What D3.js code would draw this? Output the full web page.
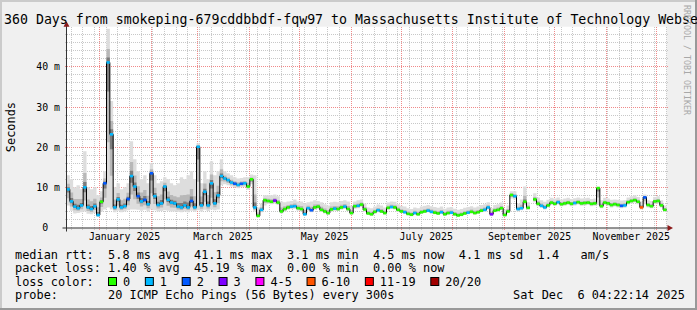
<!DOCTYPE html>
<html><head><meta charset="utf-8">
<script src="https://cdn.jsdelivr.net/npm/d3@7"></script>
<style>
html,body{margin:0;padding:0;background:#f0f0f0}
svg{display:block}
text{font-family:"DejaVu Sans Mono",monospace;fill:#000}
</style>
</head><body>
<svg id="c" width="697" height="310"></svg>
<script>
// ---------------- data ----------------
const titleText = "360 Days from smokeping-679cddbbdf-fqw97 to Massachusetts Institute of Technology Webse";
const yAxisTitle = "Seconds";
const watermark = "RRDTOOL / TOBI OETIKER";
const startDate = "2024-12-12T04:00:00Z";
const spanDays = 360;
const stepDays = 2;

const medianMs = [
 9.5,6.5,5.2,4.8,5.5,10.0,5.0,4.6,5.3,3.1,
 6.4,11.0,41.1,23.2,5.0,7.0,5.0,5.3,7.1,12.8,
 10.2,7.8,6.5,6.9,5.8,13.5,7.8,5.6,6.0,10.2,
 6.9,6.2,6.0,5.2,5.0,5.5,5.0,6.6,5.0,20.1,
 5.5,8.9,5.5,11.0,6.0,8.0,12.8,12.2,11.8,11.2,
 10.9,10.6,10.9,11.0,10.2,12.0,5.0,2.9,4.4,6.8,
 6.6,6.4,6.7,6.2,4.0,4.6,5.0,5.2,5.3,4.8,
 4.6,3.3,4.8,4.3,5.0,5.2,4.4,4.0,3.6,4.5,
 4.7,4.6,5.0,5.2,4.6,3.6,5.3,5.4,5.7,4.5,
 3.5,3.3,3.9,4.3,4.0,3.6,4.9,5.1,5.0,4.4,
 4.0,3.8,3.4,3.2,3.6,3.3,3.8,4.0,4.2,3.9,
 3.7,3.5,3.8,3.3,3.6,3.7,3.3,3.0,3.2,3.5,
 3.7,3.9,3.6,3.8,4.2,4.4,5.0,3.3,4.2,4.4,
 4.8,3.1,4.0,8.1,7.8,4.6,4.8,6.4,4.9,null,
 7.0,5.9,5.4,5.0,5.5,6.2,5.9,6.3,5.8,6.0,
 6.2,5.9,6.1,6.3,6.0,6.1,6.2,5.9,6.0,9.8,
 5.3,6.2,6.0,5.6,5.8,5.6,5.4,5.5,6.3,6.6,
 6.8,6.4,5.0,7.5,5.6,5.3,6.5,6.6,5.5,4.4
];
const smokeHiMs = [
 13,12,10,10.5,9.5,19,10,9.5,10,8,
 9,14,49.5,31.5,10,11,9.5,10,11,21.5,
 17,14,12,13,11,16,13,11,11.5,12.5,
 12,11,10.5,11,12.5,12,13,14,12,21,
 11,14,12,16.5,13,14,17,14,13.5,13,
 12.5,12.2,12.3,12.5,12.5,13.2,13,5,6,8,
 8,8,8.2,7.8,6.5,6.3,6.5,6.6,7,6.5,
 6.5,6,6.3,6.5,6.8,6.6,6.3,5.8,5.5,6.3,
 6.4,6.3,6.6,6.8,6.5,5.5,6.5,6.8,7.0,6.0,
 5.0,4.8,5.2,5.7,5.5,5.0,6.2,6.5,6.4,5.8,
 5.4,5.2,4.8,4.6,5.0,4.8,5.2,5.4,5.6,5.3,
 5.1,4.9,5.2,4.7,5.0,5.1,4.7,4.4,4.6,4.9,
 5.1,5.3,5.0,5.2,5.6,5.8,6.3,4.8,5.6,5.8,
 6.2,4.5,5.5,9.0,9.0,6.0,7.0,10.2,6.3,null,
 8.5,7.5,6.8,6.4,6.9,7.4,7.2,7.5,7.0,7.2,
 7.4,7.1,7.3,7.5,7.2,7.3,7.4,7.1,7.2,10.2,
 6.8,7.4,7.2,6.9,7.0,6.9,6.7,6.8,7.5,7.8,
 8.0,7.6,6.5,8.2,6.8,6.6,7.6,7.8,6.8,5.5
];
const smokeLoMs = [
 5.5,4.2,3.5,3.6,3.8,4.0,3.4,3.3,3.6,2.6,
 4.0,4.5,5.0,4.5,3.8,4.2,3.8,4.0,4.3,4.5,
 4.5,4.4,4.2,4.4,4.0,4.5,4.3,4.0,4.1,4.3,
 4.2,4.0,4.0,3.9,3.8,4.0,3.8,4.2,3.9,4.3,
 4.0,4.4,4.1,4.5,4.3,4.5,10.5,10.8,10.5,10.2,
 10.0,9.8,10.0,10.1,9.4,10.8,4.0,2.5,3.8,5.5,
 5.9,5.8,6.0,5.6,3.5,4.0,4.4,4.6,4.7,4.2,
 4.0,2.9,4.2,3.8,4.4,4.6,3.9,3.5,3.1,4.0,
 4.2,4.1,4.4,4.6,4.1,3.2,4.7,4.8,5.1,4.0,
 3.1,2.9,3.5,3.8,3.6,3.2,4.4,4.6,4.5,3.9,
 3.6,3.4,3.0,2.8,3.2,2.9,3.4,3.6,3.8,3.5,
 3.3,3.1,3.4,2.9,3.2,3.3,2.9,2.7,2.8,3.1,
 3.3,3.5,3.2,3.4,3.8,3.9,4.5,2.9,3.8,4.0,
 4.3,2.8,3.6,7.2,7.0,4.0,4.3,5.6,4.4,null,
 6.3,5.3,4.9,4.5,5.0,5.6,5.4,5.7,5.3,5.4,
 5.6,5.3,5.5,5.7,5.4,5.5,5.6,5.3,5.4,5.6,
 4.8,5.6,5.4,5.0,5.2,5.0,4.8,4.9,5.7,6.0,
 6.2,5.8,4.5,5.8,5.0,4.8,5.9,6.0,5.0,4.0
];
// loss bucket index per step (0 -> "0", 1 -> "1", ... 7 -> "20/20")
const lossBucket = [
 1,1,1,1,1,1,1,1,1,1,
 0,2,1,1,1,1,1,1,2,1,
 1,2,1,2,1,2,1,1,1,1,
 1,1,1,1,1,1,1,2,1,1,
 1,1,1,1,1,1,1,1,1,1,
 2,1,2,1,0,0,1,0,1,0,
 0,0,3,0,0,0,0,1,1,0,
 0,1,1,2,0,0,0,0,0,0,
 1,0,0,1,0,0,0,1,0,0,
 0,0,0,1,0,0,0,1,0,0,
 0,1,0,0,1,0,0,0,1,1,
 0,0,1,0,0,1,0,0,0,0,
 1,0,0,0,0,1,1,3,0,0,
 0,0,0,0,1,1,1,0,0,0,
 0,0,1,1,0,0,0,1,0,0,
 0,0,1,0,0,0,0,0,0,0,
 0,0,0,0,0,0,2,1,0,0,
 0,0,5,2,0,0,0,0,0,0
];
const lossLabels = ["0","1","2","3","4-5","6-10","11-19","20/20"];
const lossColors = ["#26ff00","#00b8ff","#0059ff","#7e00ff","#ff00ff","#ff5500","#ff0000","#a10000"];

const yMax = 50;
const yMajorTicks = [0,10,20,30,40];
const yTickLabels = ["0  ","10 m","20 m","30 m","40 m"];
const xTickLabels = ["January 2025","March 2025","May 2025","July 2025","September 2025","November 2025"];

const legendRtt  = "median rtt:  5.8 ms avg  41.1 ms max  3.1 ms min  4.5 ms now  4.1 ms sd  1.4   am/s";
const legendLoss = "packet loss: 1.40 % avg  45.19 % max  0.00 % min  0.00 % now";
const legendLossTitle = "loss color:";
const legendProbe = "probe:       20 ICMP Echo Pings (56 Bytes) every 300s";
const legendDate = "Sat Dec  6 04:22:14 2025";

// ---------------- layout ----------------
const W = 697, H = 310;
const P = {l: 66.5, r: 666.5, t: 26.7, b: 227.5};
const svg = d3.select("#c");
const keep = s => s.replace(/ /g, "\u00A0");

const start = new Date(startDate);
const end = d3.utcDay.offset(start, spanDays);
const x = d3.scaleUtc().domain([start, end]).range([P.l, P.r]);
const y = d3.scaleLinear().domain([0, yMax]).range([P.b, P.t]);
const crisp = v => Math.round(v - 0.5) + 0.5;

// background + frame shading
svg.append("rect").attr("width", W).attr("height", H).attr("fill", "#f0f0f0");
svg.append("path").attr("d", `M0,0H${W}V2H2V${H}H0Z`).attr("fill", "#cbcbcb");
svg.append("path").attr("d", `M${W},0V${H}H0V${H-2}H${W-2}V0Z`).attr("fill", "#999999");
// canvas
svg.append("rect").attr("x", P.l).attr("y", P.t).attr("width", P.r - P.l).attr("height", P.b - P.t).attr("fill", "#ffffff");

// grid
const grid = svg.append("g").attr("shape-rendering", "crispEdges");
const minorY = d3.range(0, yMax + 0.001, 2).filter(v => v % 10 !== 0);
grid.selectAll(".hmin").data(minorY).join("line")
  .attr("x1", P.l - 2).attr("x2", P.r + 2)
  .attr("y1", d => crisp(y(d))).attr("y2", d => crisp(y(d)))
  .attr("stroke", "#c8c8c8").attr("stroke-dasharray", "1,1");
const weeks = d3.utcSunday.range(start, end).filter(d => d.getUTCDate() !== 1);
grid.selectAll(".vmin").data(weeks).join("line")
  .attr("x1", d => crisp(x(d))).attr("x2", d => crisp(x(d)))
  .attr("y1", P.t).attr("y2", P.b + 2)
  .attr("stroke", "#c8c8c8").attr("stroke-dasharray", "1,1");
grid.selectAll(".hmaj").data(yMajorTicks.filter(v => v > 0)).join("line")
  .attr("x1", P.l - 2).attr("x2", P.r + 2)
  .attr("y1", d => crisp(y(d))).attr("y2", d => crisp(y(d)))
  .attr("stroke", "#f08a8a").attr("stroke-dasharray", "1,1");
const months = d3.utcMonth.range(start, end);
grid.selectAll(".vmaj").data(months).join("line")
  .attr("x1", d => crisp(x(d))).attr("x2", d => crisp(x(d)))
  .attr("y1", P.t).attr("y2", P.b + 2)
  .attr("stroke", "#f08a8a").attr("stroke-dasharray", "1,1");

// step data
const steps = medianMs.map((m, i) => ({
  x0: x(d3.utcDay.offset(start, i * stepDays)),
  x1: x(d3.utcDay.offset(start, Math.min((i + 1) * stepDays, spanDays))),
  m, hi: smokeHiMs[i], lo: smokeLoMs[i], loss: lossBucket[i]
}));
const stepPts = [];
steps.forEach(s => { stepPts.push({x: s.x0, ...s}); stepPts.push({x: s.x1, ...s}); });
const def = d => d.m != null;

// smoke (nested bands, darker toward the median)
const bands = [
  {lo: d => d.lo, hi: d => d.hi, fill: "#dddddd"},
  {lo: d => d.lo + (d.m - d.lo) * 0.45, hi: d => d.m + (d.hi - d.m) * 0.4, fill: "#b8b8b8"},
  {lo: d => d.m - (d.m - d.lo) * 0.2, hi: d => d.m + (d.hi - d.m) * 0.15, fill: "#7c7c7c"}
];
const gSmoke = svg.append("g");
bands.forEach(b => {
  gSmoke.append("path").datum(stepPts)
    .attr("d", d3.area().defined(def).x(d => d.x).y0(d => y(b.lo(d))).y1(d => y(b.hi(d))))
    .attr("fill", b.fill);
});

// median (black step line)
svg.append("path").datum(stepPts)
  .attr("d", d3.line().defined(def).x(d => d.x).y(d => y(d.m)))
  .attr("fill", "none").attr("stroke", "#000").attr("stroke-width", 1);

// loss-coloured median segments
svg.append("g").selectAll("path").data(steps.filter(def)).join("path")
  .attr("d", d => `M${d.x0},${y(d.m)}H${d.x1}`)
  .attr("stroke", d => lossColors[d.loss]).attr("stroke-width", 2.6).attr("fill", "none");

// axes
const axisCol = "#333333", arrowCol = "#8b1a1a";
svg.append("line").attr("x1", P.l - 4).attr("x2", P.r + 3).attr("y1", P.b + 0.5).attr("y2", P.b + 0.5)
  .attr("stroke", axisCol);
svg.append("line").attr("x1", P.l).attr("x2", P.l).attr("y1", P.b + 4).attr("y2", P.t - 2)
  .attr("stroke", axisCol);
svg.append("path").attr("d", `M${P.r + 1},${P.b + 0.5 - 3}L${P.r + 6.5},${P.b + 0.5}L${P.r + 1},${P.b + 0.5 + 3}Z`).attr("fill", arrowCol);
svg.append("path").attr("d", `M${P.l - 3},${P.t}L${P.l},${P.t - 5.5}L${P.l + 3},${P.t}Z`).attr("fill", arrowCol);

// y tick labels
svg.append("g").selectAll("text").data(yMajorTicks).join("text")
  .attr("x", 60).attr("y", d => y(d)).attr("dy", "0.36em")
  .attr("text-anchor", "end")
  .style("font-size", "9.9px")
  .text((d, i) => keep(yTickLabels[i]));

// x tick labels: centred mid-month on every second month
const labelMonths = d3.utcMonth.every(2).range(d3.utcMonth.ceil(start), end).slice(0, xTickLabels.length);
svg.append("g").selectAll("text").data(labelMonths).join("text")
  .attr("x", d => x(d3.utcDay.offset(d, 15))).attr("y", 240)
  .attr("text-anchor", "middle").style("font-size", "9.9px")
  .text((d, i) => xTickLabels[i]);

// title
svg.append("text").attr("x", 4).attr("y", 24).style("font-size", "13.25px").text(titleText);

// y-axis title
svg.append("text").attr("transform", `translate(15,${(P.t + P.b) / 2}) rotate(-90)`)
  .attr("text-anchor", "middle").style("font-size", "11.9px").text(yAxisTitle);

// watermark
svg.append("text").attr("transform", "translate(684,5) rotate(90)")
  .style("font-size", "8.3px").style("fill", "#a8a8a8").text(watermark);

// legend
const lg = svg.append("g").style("font-size", "11.9px");
lg.append("text").attr("x", 15).attr("y", 258.5).text(keep(legendRtt));
lg.append("text").attr("x", 15).attr("y", 272).text(keep(legendLoss));
lg.append("text").attr("x", 15).attr("y", 285.5).text(keep(legendLossTitle));
lg.append("text").attr("x", 15).attr("y", 299).text(keep(legendProbe));
lg.append("text").attr("x", 513).attr("y", 299).text(keep(legendDate));
const cw = 7.15;
let bx = 108.5;
lossLabels.forEach((lab, i) => {
  lg.append("rect").attr("x", bx).attr("y", 277.5).attr("width", 8).attr("height", 8)
    .attr("fill", lossColors[i]).attr("stroke", "#000").attr("stroke-width", 1);
  lg.append("text").attr("x", bx + 14.5).attr("y", 285.5).text(lab);
  bx += 14.5 + lab.length * cw + 15.2;
});
</script>
</body></html>
